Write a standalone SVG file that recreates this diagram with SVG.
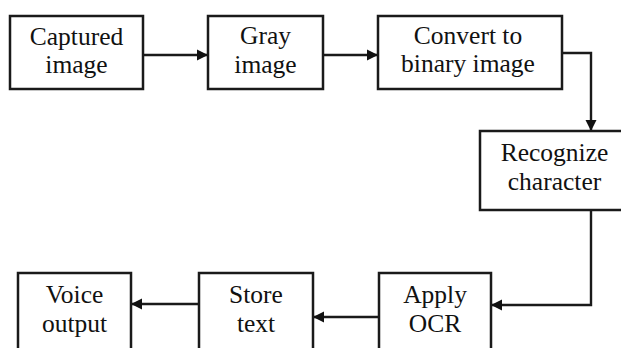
<svg xmlns="http://www.w3.org/2000/svg" width="621" height="348" viewBox="0 0 621 348">
  <style>
    .box { fill: #ffffff; stroke: #1a1a1a; stroke-width: 2.5; }
    .lbl { font-family: "Liberation Serif", "Times New Roman", "DejaVu Serif", serif; font-size: 25.5px; fill: #111111; text-anchor: middle; }
    .edge { fill: none; stroke: #1a1a1a; stroke-width: 2.4; }
  </style>
  <defs>
    <marker id="arrow" markerUnits="userSpaceOnUse" markerWidth="12" markerHeight="12" refX="11" refY="6" orient="auto">
      <path d="M0,0.5 L11,6 L0,11.5 z" fill="#111111"/>
    </marker>
  </defs>
  <rect width="621" height="348" fill="#ffffff"/>

  <g id="connectors">
    <line class="edge" x1="143" y1="55" x2="208" y2="55" marker-end="url(#arrow)"/>
    <line class="edge" x1="323" y1="55" x2="378" y2="55" marker-end="url(#arrow)"/>
    <polyline class="edge" points="562,53 591,53 591,131" marker-end="url(#arrow)"/>
    <polyline class="edge" points="591,210 591,305 491,305" marker-end="url(#arrow)"/>
    <line class="edge" x1="379" y1="317" x2="313" y2="317" marker-end="url(#arrow)"/>
    <line class="edge" x1="199" y1="304" x2="131" y2="304" marker-end="url(#arrow)"/>
  </g>

  <g id="captured">
    <rect class="box" x="10" y="16" width="133" height="73"/>
    <text class="lbl" x="76.5" y="45">Captured</text>
    <text class="lbl" x="76.5" y="73">image</text>
  </g>
  <g id="gray">
    <rect class="box" x="208" y="16" width="115" height="73"/>
    <text class="lbl" x="265.5" y="44">Gray</text>
    <text class="lbl" x="265.5" y="73">image</text>
  </g>
  <g id="binary">
    <rect class="box" x="378" y="16" width="184" height="73"/>
    <text class="lbl" x="468" y="44">Convert to</text>
    <text class="lbl" x="468" y="72">binary image</text>
  </g>
  <g id="recognize">
    <rect class="box" x="480" y="131" width="149" height="79"/>
    <text class="lbl" x="554.5" y="161">Recognize</text>
    <text class="lbl" x="554.5" y="190">character</text>
  </g>
  <g id="ocr">
    <rect class="box" x="379" y="273" width="112" height="90"/>
    <text class="lbl" x="435" y="303">Apply</text>
    <text class="lbl" x="435" y="332">OCR</text>
  </g>
  <g id="store">
    <rect class="box" x="199" y="273" width="114" height="90"/>
    <text class="lbl" x="256" y="303">Store</text>
    <text class="lbl" x="256" y="332">text</text>
  </g>
  <g id="voice">
    <rect class="box" x="18" y="273" width="113" height="90"/>
    <text class="lbl" x="74.5" y="303">Voice</text>
    <text class="lbl" x="74.5" y="332">output</text>
  </g>
</svg>
